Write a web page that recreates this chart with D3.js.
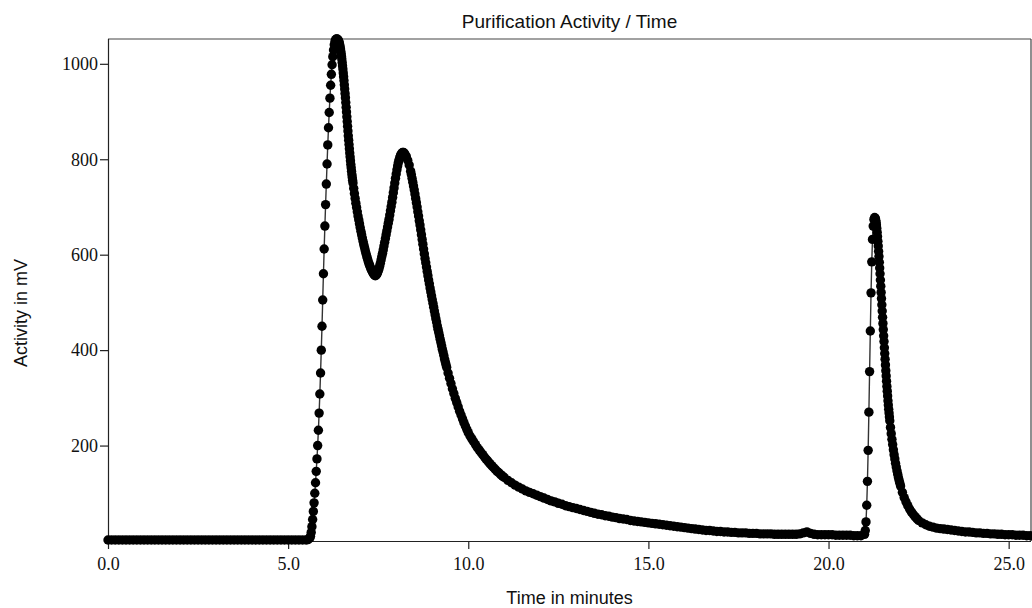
<!DOCTYPE html>
<html><head><meta charset="utf-8">
<script src="https://cdn.jsdelivr.net/npm/d3@7"></script>
<style>body{margin:0;background:#fff}svg{display:block}</style>
</head><body>
<svg id="chart" width="1032" height="608"></svg>
<script>
// ---- data (time in minutes, activity in mV) ----
const titleText = "Purification Activity / Time";
const xLabel = "Time in minutes";
const yLabel = "Activity in mV";
const xTickValues = [0, 5, 10, 15, 20, 25];
const yTickValues = [200, 400, 600, 800, 1000];

const baselineSegment = [
[0.0,2],[0.1,2],[0.2,2],[0.3,2],[0.4,2],[0.5,2],[0.6,2],[0.7,2],[0.8,2],[0.9,2],
[1.0,2],[1.1,2],[1.2,2],[1.3,2],[1.4,2],[1.5,2],[1.6,2],[1.7,2],[1.8,2],[1.9,2],
[2.0,2],[2.1,2],[2.2,2],[2.3,2],[2.4,2],[2.5,2],[2.6,2],[2.7,2],[2.8,2],[2.9,2],
[3.0,2],[3.1,2],[3.2,2],[3.3,2],[3.4,2],[3.5,2],[3.6,2],[3.7,2],[3.8,2],[3.9,2],
[4.0,2],[4.1,2],[4.2,2],[4.3,2],[4.4,2],[4.5,2],[4.6,2],[4.7,2],[4.8,2],[4.9,2],
[5.0,2],[5.1,2],[5.2,2],[5.3,2],[5.4,2],[5.5,2]
];

const firstPeaksSegment = [
[5.55,3],[5.60,6],[5.62,10],[5.64,18],[5.66,30],[5.68,45],[5.70,62],[5.72,80],[5.74,100],[5.76,122],[5.78,146],
[5.80,172],[5.82,200],[5.84,232],[5.86,268],[5.88,308],[5.90,352],[5.92,400],[5.94,450],[5.96,505],[5.98,560],
[6.00,612],[6.02,660],[6.04,705],[6.06,748],[6.08,790],[6.10,830],[6.12,866],[6.14,898],[6.16,928],[6.18,955],
[6.20,978],[6.22,998],[6.24,1015],[6.26,1029],[6.28,1040],[6.30,1047],[6.32,1051],[6.34,1052],[6.36,1052],[6.38,1051],
[6.40,1048],[6.41,1046],[6.42,1043],[6.43,1040],[6.44,1036],[6.45,1032],[6.46,1027],[6.47,1022],[6.48,1016],[6.49,1010],
[6.50,1003],[6.51,996],[6.52,989],[6.53,981],[6.54,973],[6.55,965],[6.56,956],[6.57,947],[6.58,938],[6.59,929],
[6.60,919],[6.61,909],[6.62,899],[6.63,889],[6.64,879],[6.65,869],[6.66,859],[6.67,849],[6.68,840],[6.69,831],
[6.70,822],[6.71,813],[6.72,805],[6.73,797],[6.74,789],[6.75,782],[6.76,775],[6.77,768],[6.78,762],[6.79,756],
[6.80,750],[6.82,739],[6.84,728],[6.86,718],[6.88,708],[6.90,699],[6.92,690],[6.94,681],[6.96,673],[6.98,665],
[7.00,657],[7.02,649],[7.04,642],[7.06,635],[7.08,628],[7.10,621],[7.12,615],[7.14,609],[7.16,603],[7.18,597],
[7.20,592],[7.22,587],[7.24,582],[7.26,578],[7.28,574],[7.30,570],[7.32,567],[7.34,564],[7.36,561],[7.38,559],
[7.40,557],[7.42,556],[7.44,557],[7.46,559],[7.48,562],[7.50,566],[7.52,570],[7.54,576],[7.56,582],[7.58,589],
[7.60,596],[7.62,603],[7.64,610],[7.66,618],[7.68,626],[7.70,634],[7.72,642],[7.74,650],[7.76,658],[7.78,666],
[7.80,674],[7.82,683],[7.84,692],[7.86,701],[7.88,710],[7.90,720],[7.92,730],[7.94,740],[7.96,750],[7.98,760],
[8.00,769],[8.02,778],[8.04,786],[8.06,793],[8.08,799],[8.10,804],[8.12,808],[8.14,811],[8.16,813],[8.18,814],
[8.20,814],[8.22,813]
];

const decaySegment = [
[8.24,811],[8.28,806],[8.32,798],[8.36,788],
[8.40,775],[8.42,768],[8.44,760],[8.46,752],[8.48,744],[8.50,736],[8.52,727],[8.54,718],[8.56,709],[8.58,700],
[8.60,690],[8.62,681],[8.64,671],[8.66,662],[8.68,652],[8.70,642],[8.72,632],[8.74,622],[8.76,612],[8.78,602],
[8.80,592],[8.82,583],[8.84,574],[8.86,565],[8.88,556],[8.90,547],[8.92,539],[8.94,530],[8.96,522],[8.98,514],
[9.00,506],[9.02,498],[9.04,490],[9.06,482],[9.08,474],[9.10,466],[9.12,459],[9.14,451],[9.16,444],[9.18,437],
[9.20,430],[9.22,423],[9.24,416],[9.26,409],[9.28,402],[9.30,396],[9.32,389],[9.34,382],[9.36,376],[9.38,370],
[9.40,364],[9.44,352],[9.48,341],[9.52,330],[9.56,319],[9.60,309],[9.64,299],[9.68,290],[9.72,281],[9.76,272],
[9.80,264],[9.84,256],[9.88,248],[9.92,241],[9.96,234],[10.00,227],
[10.05,220],[10.10,214],[10.15,208],[10.20,202],[10.25,196],[10.30,191],[10.35,186],[10.40,181],[10.45,176],[10.50,171],
[10.55,167],[10.60,162],[10.65,158],[10.70,154],[10.75,150],[10.80,146],[10.85,143],[10.90,139],[10.95,136],[11.00,133],
[11.1,127],[11.2,122],[11.3,117],[11.4,113],[11.5,109],[11.6,105],[11.7,102],[11.8,99],[11.9,96],[12.0,93],
[12.1,90],[12.2,87],[12.3,84],[12.4,82],[12.5,79],[12.6,77],[12.7,74],[12.8,72],[12.9,70],[13.0,68],
[13.1,66],[13.2,64],[13.3,62],[13.4,60],[13.5,58],[13.6,56],[13.7,55],[13.8,53],[13.9,52],[14.0,50],
[14.1,49],[14.2,47],[14.3,46],[14.4,45],[14.5,43],[14.6,42],[14.7,41],[14.8,40],[14.9,39],[15.0,38],
[15.1,37],[15.2,36],[15.3,35],[15.4,34],[15.5,33],[15.6,32],[15.7,31],[15.8,30],[15.9,29],[16.0,28],
[16.1,27],[16.2,26],[16.3,25],[16.4,24],[16.5,23],[16.6,22],[16.7,22],[16.8,21],[16.9,20],[17.0,20],
[17.1,19],[17.2,19],[17.3,18],[17.4,18],[17.5,17],[17.6,17],[17.7,17],[17.8,16],[17.9,16],[18.0,16],
[18.1,15],[18.2,15],[18.3,15],[18.4,15],[18.5,14],[18.6,14],[18.7,14],[18.8,14],[18.9,14],[19.0,14],
[19.1,14],[19.2,15],[19.3,17],[19.4,19],[19.5,16],[19.6,14],[19.7,13],[19.8,13],[19.9,13],[20.0,13],
[20.1,13],[20.2,12],[20.3,12],[20.4,12],[20.5,12],[20.6,12],[20.7,11],[20.8,11],[20.9,11]
];

const lastPeakSegment = [
[21.00,14],[21.02,22],[21.04,40],[21.06,75],[21.08,125],[21.10,190],[21.12,270],[21.14,355],[21.16,440],[21.18,520],
[21.20,585],[21.22,632],[21.24,660],[21.26,674],[21.28,678],[21.30,676],[21.31,672],[21.32,668],[21.33,662],[21.34,655],
[21.35,647],[21.36,638],[21.37,628],[21.38,618],[21.39,607],[21.40,596],[21.41,584],[21.42,572],[21.43,560],[21.44,547],
[21.45,534],[21.46,521],[21.47,508],[21.48,495],[21.49,482],[21.50,469],[21.51,456],[21.52,443],[21.53,430],[21.54,418],
[21.55,405],[21.56,393],[21.57,381],[21.58,369],[21.59,357],[21.60,346],[21.61,335],[21.62,324],[21.63,314],[21.64,304],
[21.65,294],[21.66,285],[21.67,276],[21.68,268],[21.69,260],[21.70,252],[21.72,238],[21.74,225],[21.76,213],[21.78,202],
[21.80,191],[21.82,181],[21.84,172],[21.86,163],[21.88,155],[21.90,147],[21.92,140],[21.94,133],[21.96,127],[21.98,121],
[22.00,115],[22.05,102],[22.10,91],[22.15,82],[22.20,74],[22.25,67],[22.30,61],[22.35,56],[22.40,51],[22.45,47],
[22.50,43],[22.6,38],[22.7,34],[22.8,31],[22.9,29],[23.0,27],[23.1,26],[23.2,25],[23.3,24],[23.4,23],
[23.5,22],[23.6,21],[23.7,20],[23.8,19],[23.9,19],[24.0,18],[24.1,17],[24.2,17],[24.3,16],[24.4,16],
[24.5,15],[24.6,15],[24.7,14],[24.8,14],[24.9,13],[25.0,13],[25.1,13],[25.2,12],[25.3,12],[25.4,12],
[25.5,11],[25.6,11]
];

// ---- drawing ----
const points = [].concat(baselineSegment, firstPeaksSegment, decaySegment, lastPeakSegment)
  .map(([t, v]) => ({t, v}));

const svg = d3.select("#chart");
const L = 108, R = 1031, T = 39, B = 541;
const x = d3.scaleLinear().domain([0, 25.62]).range([L, R]);
const y = d3.scaleLinear().domain([0, 1052]).range([B, T]);

// frame (top / right)
svg.append("line").attr("x1", L).attr("x2", R).attr("y1", T).attr("y2", T)
  .attr("stroke", "#444").attr("stroke-width", 1.2);
svg.append("line").attr("x1", R).attr("x2", R).attr("y1", T).attr("y2", B)
  .attr("stroke", "#444").attr("stroke-width", 1.2);

const serif = "'Liberation Serif', 'Times New Roman', serif";
const xAxis = svg.append("g").attr("transform", `translate(0,${B})`)
  .call(d3.axisBottom(x).tickValues(xTickValues).tickFormat(d3.format(".1f")).tickSize(8).tickSizeOuter(0).tickPadding(8));
const yAxis = svg.append("g").attr("transform", `translate(${L},0)`)
  .call(d3.axisLeft(y).tickValues(yTickValues).tickFormat(d3.format("d")).tickSize(8).tickSizeOuter(0).tickPadding(2));

[xAxis, yAxis].forEach(g => {
  g.select(".domain").attr("stroke", "#222").attr("stroke-width", 1.2);
  g.selectAll(".tick line").attr("stroke", "#222").attr("stroke-width", 1.2);
  g.selectAll(".tick text").attr("fill", "#111")
    .style("font-family", serif).style("font-size", "18px");
});
xAxis.select(".domain").attr("d", `M${L},0.5H${R}`);
yAxis.select(".domain").attr("d", `M0.5,${B}V${T}`);

// connecting line
svg.append("path").datum(points)
  .attr("fill", "none").attr("stroke", "#333").attr("stroke-width", 1.4)
  .attr("d", d3.line().x(d => x(d.t)).y(d => y(d.v)));

// markers
svg.append("g").selectAll("circle").data(points).join("circle")
  .attr("cx", d => x(d.t)).attr("cy", d => y(d.v)).attr("r", 4.7).attr("fill", "#000");

// texts
const sans = "'Liberation Sans', Arial, sans-serif";
svg.append("text").attr("x", (L + R) / 2).attr("y", 28).attr("text-anchor", "middle")
  .style("font-family", sans).style("font-size", "19px").attr("fill", "#111").text(titleText);
svg.append("text").attr("x", (L + R) / 2).attr("y", 604).attr("text-anchor", "middle")
  .style("font-family", sans).style("font-size", "18px").attr("fill", "#111").text(xLabel);
svg.append("text").attr("transform", "translate(27,313) rotate(-90)").attr("text-anchor", "middle")
  .style("font-family", sans).style("font-size", "18px").attr("fill", "#111").text(yLabel);
</script>
</body></html>
